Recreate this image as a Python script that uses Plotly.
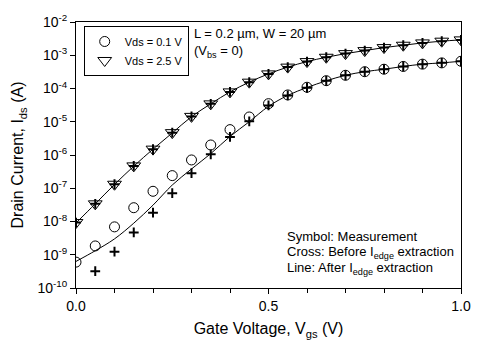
import plotly.graph_objects as go

# Gate voltage (V)
vgs = [0.0, 0.05, 0.1, 0.15, 0.2, 0.25, 0.3, 0.35, 0.4, 0.45, 0.5,
       0.55, 0.6, 0.65, 0.7, 0.75, 0.8, 0.85, 0.9, 0.95, 1.0]

# Measurement, Vds = 0.1 V (circles)
meas_01 = [6.0e-10, 1.84e-9, 6.9e-9, 2.6e-8, 8.1e-8, 2.4e-7, 7.1e-7, 2.0e-6, 5.8e-6, 1.39e-5, 3.5e-5,
           6.4e-5, 1.09e-4, 1.72e-4, 2.5e-4, 3.2e-4, 3.8e-4, 4.6e-4, 5.4e-4, 5.9e-4, 6.6e-4]
# Before I_edge extraction, Vds = 0.1 V (crosses)
before_01 = [5e-11, 3.2e-10, 1.24e-9, 4.7e-9, 1.84e-8, 7.1e-8, 2.85e-7, 1.05e-6, 3.5e-6, 1.03e-5, 3.1e-5,
             6.2e-5, 1.05e-4, 1.7e-4, 2.5e-4, 3.2e-4, 3.8e-4, 4.6e-4, 5.4e-4, 5.9e-4, 6.6e-4]
# After I_edge extraction, Vds = 0.1 V (line)
after_01 = [6.3e-10, 1.32e-9, 3.0e-9, 8.9e-9, 3.1e-8, 1.25e-7, 3.8e-7, 1.1e-6, 3.6e-6, 1.0e-5, 2.9e-5,
            6.2e-5, 1.07e-4, 1.7e-4, 2.5e-4, 3.2e-4, 3.8e-4, 4.6e-4, 5.4e-4, 5.9e-4, 6.6e-4]

# Measurement, Vds = 2.5 V (triangles)
meas_25 = [9.3e-9, 3.4e-8, 1.32e-7, 4.7e-7, 1.5e-6, 4.7e-6, 1.45e-5, 3.45e-5, 7.9e-5, 1.55e-4, 2.75e-4,
           4.4e-4, 6.45e-4, 8.7e-4, 1.12e-3, 1.38e-3, 1.7e-3, 2.0e-3, 2.35e-3, 2.65e-3, 2.9e-3]
# Before I_edge extraction, Vds = 2.5 V (crosses)
before_25 = [9.3e-9, 3.4e-8, 1.32e-7, 4.7e-7, 1.5e-6, 4.7e-6, 1.45e-5, 3.45e-5, 7.9e-5, 1.55e-4, 2.75e-4,
             4.4e-4, 6.45e-4, 8.7e-4, 1.12e-3, 1.38e-3, 1.7e-3, 2.0e-3, 2.35e-3, 2.65e-3, 2.9e-3]
# After I_edge extraction, Vds = 2.5 V (line)
after_25 = [9.0e-9, 3.4e-8, 1.3e-7, 4.6e-7, 1.5e-6, 4.6e-6, 1.42e-5, 3.45e-5, 7.9e-5, 1.55e-4, 2.75e-4,
            4.4e-4, 6.45e-4, 8.7e-4, 1.12e-3, 1.38e-3, 1.7e-3, 2.0e-3, 2.35e-3, 2.65e-3, 2.9e-3]

x_tickvals = [0.0, 0.5, 1.0]
x_ticktext = ["0.0", "0.5", "1.0"]
y_tickvals = [1e-10, 1e-9, 1e-8, 1e-7, 1e-6, 1e-5, 1e-4, 1e-3, 1e-2]
y_ticktext = ["10<sup>-10</sup>", "10<sup>-9</sup>", "10<sup>-8</sup>", "10<sup>-7</sup>",
              "10<sup>-6</sup>", "10<sup>-5</sup>", "10<sup>-4</sup>", "10<sup>-3</sup>",
              "10<sup>-2</sup>"]

FONT = "Liberation Sans, Arial, sans-serif"

fig = go.Figure()

line_style = dict(color="black", width=1, shape="spline", smoothing=1.0)
fig.add_trace(go.Scatter(x=vgs, y=after_01, mode="lines", line=line_style, showlegend=False))
fig.add_trace(go.Scatter(x=vgs, y=after_25, mode="lines", line=line_style, showlegend=False))

cross = dict(symbol="cross-thin-open", size=7, color="black", line=dict(color="black", width=2))
fig.add_trace(go.Scatter(x=vgs, y=before_01, mode="markers", marker=cross, showlegend=False))
fig.add_trace(go.Scatter(x=vgs, y=before_25, mode="markers", marker=cross, showlegend=False))

fig.add_trace(go.Scatter(
    x=vgs, y=meas_01, mode="markers", name="Vds = 0.1 V",
    marker=dict(symbol="circle-open", size=10, color="black", line=dict(color="black", width=1))))
fig.add_trace(go.Scatter(
    x=vgs, y=meas_25, mode="markers", name="Vds = 2.5 V",
    marker=dict(symbol="triangle-down-open", size=12, color="black", line=dict(color="black", width=1))))

fig.update_xaxes(
    range=[0, 1], tickvals=x_tickvals, ticktext=x_ticktext,
    ticks="outside", ticklen=5, tickcolor="black", tickwidth=1,
    showline=True, linecolor="black", linewidth=1, mirror=True,
    showgrid=False, zeroline=False,
    minor=dict(dtick=0.1, tick0=0, ticks="outside", ticklen=4, tickcolor="black", showgrid=False),
    tickfont=dict(size=14, color="black", family=FONT),
    title=dict(text="Gate Voltage, V<sub>gs</sub> (V)", font=dict(size=16, color="black", family=FONT), standoff=10),
)
fig.update_yaxes(
    type="log", range=[-10, -2], tickvals=y_tickvals, ticktext=y_ticktext,
    ticks="outside", ticklen=5, tickcolor="black", tickwidth=1,
    showline=True, linecolor="black", linewidth=1, mirror=True,
    showgrid=False, zeroline=False,
    tickfont=dict(size=14, color="black", family=FONT),
    title=dict(text="Drain Current, I<sub>ds</sub> (A)", font=dict(size=16, color="black", family=FONT), standoff=9),
)

fig.add_annotation(xref="paper", yref="paper", x=0.30, y=0.955, xanchor="left", yanchor="middle",
                   text="L = 0.2 µm, W = 20 µm", showarrow=False,
                   font=dict(size=13, color="black", family=FONT))
fig.add_annotation(xref="paper", yref="paper", x=0.30, y=0.89, xanchor="left", yanchor="middle",
                   text="(V<sub>bs</sub> = 0)", showarrow=False,
                   font=dict(size=13, color="black", family=FONT))
notes = ["Symbol: Measurement",
         "Cross: Before I<sub>edge</sub> extraction",
         "Line: After I<sub>edge</sub> extraction"]
note_y = [0.195, 0.135, 0.075]
for t, yy in zip(notes, note_y):
    fig.add_annotation(xref="paper", yref="paper", x=0.542, y=yy, xanchor="left", yanchor="middle",
                       text=t, showarrow=False, font=dict(size=13, color="black", family=FONT))

fig.update_layout(
    width=489, height=354,
    margin=dict(l=76, r=28, t=19, b=66),
    paper_bgcolor="white", plot_bgcolor="white",
    font=dict(family=FONT, color="black"),
    legend=dict(x=0.02, y=0.985, xanchor="left", yanchor="top",
                bordercolor="black", borderwidth=1, bgcolor="white",
                font=dict(size=11, color="black", family=FONT),
                itemwidth=30, tracegroupgap=0),
)

fig.write_html("out.html")
